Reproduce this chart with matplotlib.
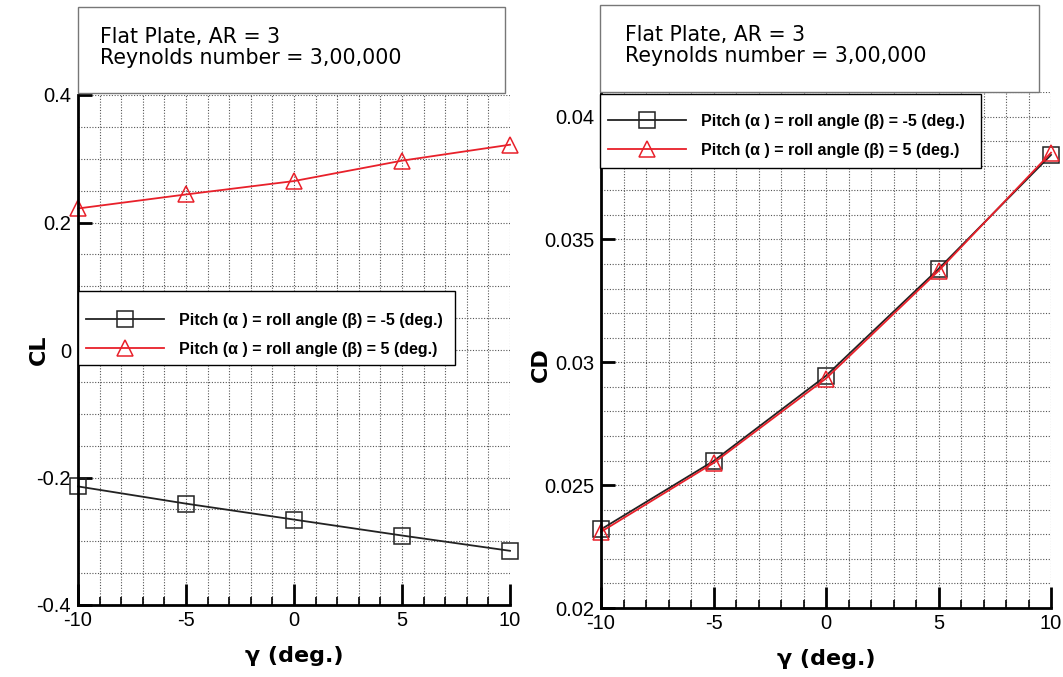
import numpy as np
import matplotlib
matplotlib.use('AGG')
import matplotlib.pyplot as plt
from matplotlib import font_manager
from matplotlib.patches import Rectangle
from matplotlib.ticker import MultipleLocator

plt.rcParams['axes.unicode_minus'] = False

# yaw angle sweep
gamma = np.array([-10, -5, 0, 5, 10])

# lift coefficient
cl_neg = np.array([-0.214, -0.241, -0.266, -0.291, -0.315])
cl_pos = np.array([0.222, 0.244, 0.265, 0.297, 0.322])

# drag coefficient
cd_neg = np.array([0.0232, 0.02598, 0.02945, 0.0338, 0.03844])
cd_pos = np.array([0.0231, 0.0259, 0.02934, 0.03372, 0.03853])

lbl_neg = 'Pitch (\u03b1 ) = roll angle (\u03b2) = -5 (deg.)'
lbl_pos = 'Pitch (\u03b1 ) = roll angle (\u03b2) = 5 (deg.)'


def have_font(name):
    try:
        font_manager.findfont(font_manager.FontProperties(family=name, weight='bold'),
                              fallback_to_default=False)
        return True
    except ValueError:
        return False


# narrow bold face for the legend if one is around
if have_font('Liberation Sans Narrow'):
    legend_font = {'family': ['Liberation Sans Narrow', 'DejaVu Sans'], 'weight': 'bold', 'size': 14}
else:
    legend_font = {'family': ['Liberation Sans', 'DejaVu Sans'], 'weight': 'bold', 'size': 11.5}

W, H = 1063, 677
fig = plt.figure(figsize=(W / 100, H / 100), dpi=100)


def px_box(x0, y0, x1, y1):
    # pixel box (top-left origin) -> figure fraction rect
    return [x0 / W, 1 - y1 / H, (x1 - x0) / W, (y1 - y0) / H]


red = '#e8202a'
blk = '#222222'
tick_font = {'family': 'Liberation Sans', 'size': 14.5}


def style_axes(ax, ymaj, ymin):
    for s in ['top', 'right']:
        ax.spines[s].set_visible(False)
    for s in ['left', 'bottom']:
        ax.spines[s].set_linewidth(2)
    ax.set_xlim(-10, 10)
    ax.xaxis.set_major_locator(MultipleLocator(5))
    ax.xaxis.set_minor_locator(MultipleLocator(1))
    ax.yaxis.set_major_locator(MultipleLocator(ymaj))
    ax.yaxis.set_minor_locator(MultipleLocator(ymin))
    ax.tick_params(which='both', direction='in', top=False, right=False, color='black')
    ax.tick_params(axis='x', which='major', length=15, width=2, pad=4)
    ax.tick_params(axis='x', which='minor', length=6, width=1.2)
    ax.tick_params(axis='y', which='major', length=10, width=2, pad=5)
    ax.tick_params(axis='y', which='minor', length=0)
    ax.grid(True, which='both', color='#555555', linestyle=(0, (1, 1.5)), linewidth=0.8)
    ax.set_axisbelow(True)
    for t in ax.get_xticklabels():
        t.set_fontfamily(tick_font['family'])
        t.set_fontsize(tick_font['size'])
    ax.set_xlabel('\u03b3 (deg.)', fontsize=16, fontweight='bold', labelpad=12)


def add_legend(ax, box, row1):
    # legend entries without their own frame, boxed by a plain rectangle
    x0, y0, x1, y1 = box
    r = px_box(x0, y0, x1, y1)
    ax.add_patch(Rectangle((r[0], r[1]), r[2], r[3], transform=fig.transFigure,
                           facecolor='white', edgecolor='black', linewidth=1,
                           zorder=4.9, clip_on=False))
    ax.legend(loc='upper left', bbox_to_anchor=(x0 / W, 1 - (row1 - 16) / H),
              bbox_transform=fig.transFigure, borderaxespad=0, frameon=False,
              prop=legend_font, handlelength=4.9, handletextpad=0.9,
              labelspacing=0.85, borderpad=0.5)


mk = dict(markersize=12, markerfacecolor='none', markeredgewidth=1.1, linewidth=1.3, clip_on=False)

# ---- left: lift ----
ax1 = fig.add_axes(px_box(78, 95, 510, 605))
ax1.plot(gamma, cl_neg, color=blk, marker='s', markeredgecolor=blk, label=lbl_neg, **mk)
ax1.plot(gamma, cl_pos, color=red, marker='^', markeredgecolor=red, label=lbl_pos, **mk)
ax1.set_ylim(-0.4, 0.4)
style_axes(ax1, 0.2, 0.05)
ax1.set_yticks([-0.4, -0.2, 0, 0.2, 0.4])
ax1.set_yticklabels(['-0.4', '-0.2', '0', '0.2', '0.4'], **tick_font)
ax1.set_ylabel('CL', fontsize=16, fontweight='bold')
ax1.yaxis.set_label_coords((49 - 78) / 432, 0.5)
add_legend(ax1, (78, 291, 455, 365), 321)

# ---- right: drag ----
ax2 = fig.add_axes(px_box(601, 92, 1051, 608))
ax2.plot(gamma, cd_neg, color=blk, marker='s', markeredgecolor=blk, label=lbl_neg, **mk)
ax2.plot(gamma, cd_pos, color=red, marker='^', markeredgecolor=red, label=lbl_pos, **mk)
ax2.set_ylim(0.02, 0.041)
style_axes(ax2, 0.005, 0.001)
ax2.set_yticks([0.02, 0.025, 0.03, 0.035, 0.04])
ax2.set_yticklabels(['0.02', '0.025', '0.03', '0.035', '0.04'], **tick_font)
ax2.set_ylim(0.02, 0.041)
ax2.set_ylabel('CD', fontsize=16, fontweight='bold')
ax2.yaxis.set_label_coords((551 - 601) / 450, (608 - 365) / 516)
add_legend(ax2, (600, 94, 981, 168), 122)

# ---- title boxes ----
for (x0, y0, x1, y1, tx) in [(78, 7, 505, 93, 100), (600, 5, 1039, 92, 625)]:
    r = px_box(x0, y0, x1, y1)
    fig.add_artist(Rectangle((r[0], r[1]), r[2], r[3], transform=fig.transFigure,
                             facecolor='white', edgecolor='#777777', linewidth=1, zorder=5))
    fig.text(tx / W, 1 - (y0 + 20) / H, 'Flat Plate, AR = 3\nReynolds number = 3,00,000',
             fontsize=14.8, va='top', ha='left', linespacing=1.08, zorder=6)

fig.savefig('out.png', dpi=100)
